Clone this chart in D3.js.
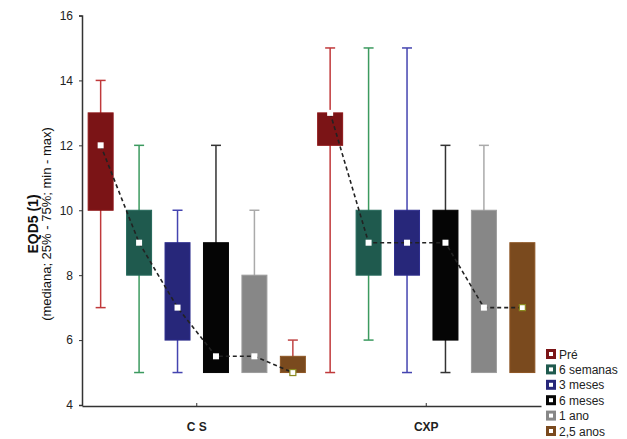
<!DOCTYPE html>
<html>
<head>
<meta charset="utf-8">
<script src="https://cdn.jsdelivr.net/npm/d3@7"></script>
<style>
  body { margin: 0; background: #fff; }
  svg { font-family: Arial, "Liberation Sans", sans-serif; }
</style>
</head>
<body>
<div id="main_div"></div>
<script>
var WIDTH = 627;
var HEIGHT = 439;

// groups on the x axis and the time points in each
var groups = ["C S", "CXP"];
var periods = ["Pré", "6 semanas", "3 meses", "6 meses", "1 ano", "2,5 anos"];

// box stats per group, one entry per period
var csMin = [7, 5, 5, 5, 5, 5];
var csQ1 = [10, 8, 6, 5, 5, 5];
var csMed = [12, 9, 7, 5.5, 5.5, 5];
var csQ3 = [13, 10, 9, 9, 8, 5.5];
var csMax = [14, 12, 10, 12, 10, 6];

var cxpMin = [5, 6, 5, 5, 5, 5];
var cxpQ1 = [12, 8, 8, 6, 5, 5];
var cxpMed = [13, 9, 9, 9, 7, 7];
var cxpQ3 = [13, 10, 10, 10, 10, 9];
var cxpMax = [15, 15, 15, 12, 12, 9];

var yTicks = [4, 6, 8, 10, 12, 14, 16];

var boxFill = ["#7b1416", "#1f5a4e", "#27277a", "#050505", "#878787", "#7a4a1e"];
var whiskerColor = ["#c0393b", "#3c9a5f", "#4444b0", "#333333", "#aaaaaa", "#c04545"];

function buildRows(group, mn, q1, med, q3, mx) {
  return periods.map(function(p, i) {
    return {group: group, period: p, i: i, min: mn[i], q1: q1[i], med: med[i], q3: q3[i], max: mx[i]};
  });
}

var stats = {
  "C S": buildRows("C S", csMin, csQ1, csMed, csQ3, csMax),
  "CXP": buildRows("CXP", cxpMin, cxpQ1, cxpMed, cxpQ3, cxpMax)
};

var svg = d3.select("#main_div").append("svg")
  .attr("width", WIDTH)
  .attr("height", HEIGHT);

// scales
var x0 = d3.scaleBand().domain(groups).range([82, 541]);
var x1 = d3.scaleBand().domain(periods).range([0, x0.bandwidth()])
  .paddingInner(0.35).paddingOuter(0.16);
var y = d3.scaleLinear().domain([4, 16]).range([405, 15.5]);

// y axis
var yAxis = svg.append("g")
  .attr("transform", "translate(82,0)")
  .call(d3.axisLeft(y).tickValues(yTicks).tickSize(3).tickPadding(6));
yAxis.select(".domain").attr("stroke", "#333").attr("stroke-width", 1.5);
yAxis.selectAll(".tick line").attr("stroke", "#333");
yAxis.selectAll(".tick text").attr("font-size", 12).attr("fill", "#222")
  .attr("font-family", "Arial, 'Liberation Sans', sans-serif");

// x axis
var xAxis = svg.append("g")
  .attr("transform", "translate(0,406)")
  .call(d3.axisBottom(x0).tickSize(-3).tickSizeOuter(0).tickPadding(0));
xAxis.select(".domain").attr("stroke", "#333").attr("stroke-width", 1.5);
xAxis.selectAll(".tick line").attr("stroke", "#333");
xAxis.selectAll(".tick text")
  .attr("y", 16)
  .attr("font-size", 12)
  .attr("font-weight", "bold")
  .attr("fill", "#222")
  .attr("font-family", "Arial, 'Liberation Sans', sans-serif");

// y label
var ylab = svg.append("text")
  .attr("transform", "translate(38,224) rotate(-90)")
  .attr("text-anchor", "middle")
  .attr("fill", "#111");
ylab.append("tspan").attr("x", 0).attr("dy", 0)
  .attr("font-size", 14).attr("font-weight", "bold").text("EQD5 (1)");
ylab.append("tspan").attr("x", 0).attr("dy", 13)
  .attr("font-size", 13).text("(mediana; 25% - 75%; min - max)");

// boxes
groups.forEach(function(g) {
  var rows = stats[g];
  var gx = x0(g);
  var bw = x1.bandwidth();
  var cx = function(d) { return gx + x1(d.period) + bw / 2; };

  var box = svg.append("g").selectAll("g.box")
    .data(rows).enter()
    .append("g").attr("class", "box");

  // whisker stem
  box.append("line")
    .attr("x1", cx).attr("x2", cx)
    .attr("y1", function(d) { return y(d.max); })
    .attr("y2", function(d) { return y(d.min); })
    .attr("stroke", function(d) { return whiskerColor[d.i]; })
    .attr("stroke-width", 1.5);

  // caps
  ["max", "min"].forEach(function(k) {
    box.filter(function(d) { return d[k] !== (k === "max" ? d.q3 : d.q1); })
      .append("line")
      .attr("x1", function(d) { return cx(d) - 5; })
      .attr("x2", function(d) { return cx(d) + 5; })
      .attr("y1", function(d) { return y(d[k]); })
      .attr("y2", function(d) { return y(d[k]); })
      .attr("stroke", function(d) { return whiskerColor[d.i]; })
      .attr("stroke-width", 1.5);
  });

  // box body
  box.append("rect")
    .attr("x", function(d) { return gx + x1(d.period); })
    .attr("width", bw)
    .attr("y", function(d) { return y(d.q3); })
    .attr("height", function(d) { return y(d.q1) - y(d.q3); })
    .attr("fill", function(d) { return boxFill[d.i]; })
    .attr("stroke", function(d) { return d3.color(boxFill[d.i]).brighter(0.4); })
    .attr("stroke-width", 1);

  // median line (dashed)
  var line = d3.line()
    .x(cx)
    .y(function(d) { return y(d.med); });
  svg.append("path")
    .datum(rows)
    .attr("d", line)
    .attr("fill", "none")
    .attr("stroke", "#222")
    .attr("stroke-width", 1.6)
    .attr("stroke-dasharray", "4,3");

  // median markers
  svg.append("g").selectAll("rect")
    .data(rows).enter()
    .append("rect")
    .attr("x", function(d) { return cx(d) - 3; })
    .attr("y", function(d) { return y(d.med) - 3; })
    .attr("width", 6).attr("height", 6)
    .attr("fill", "#fff")
    .attr("stroke", function(d) { return d.i === 5 ? "#8a8a20" : "none"; })
    .attr("stroke-width", 1.2);
});

// legend
var legend = svg.append("g").selectAll("g")
  .data(periods).enter()
  .append("g")
  .attr("transform", function(d, i) { return "translate(546," + (349 + i * 15.4) + ")"; });
legend.append("rect")
  .attr("width", 10).attr("height", 10)
  .attr("fill", function(d, i) { return boxFill[i]; });
legend.append("rect")
  .attr("x", 3).attr("y", 3)
  .attr("width", 4).attr("height", 4)
  .attr("fill", "#fff");
legend.append("text")
  .attr("x", 13).attr("y", 9.5)
  .attr("font-size", 12)
  .attr("fill", "#222")
  .text(function(d) { return d; });
</script>
</body>
</html>
